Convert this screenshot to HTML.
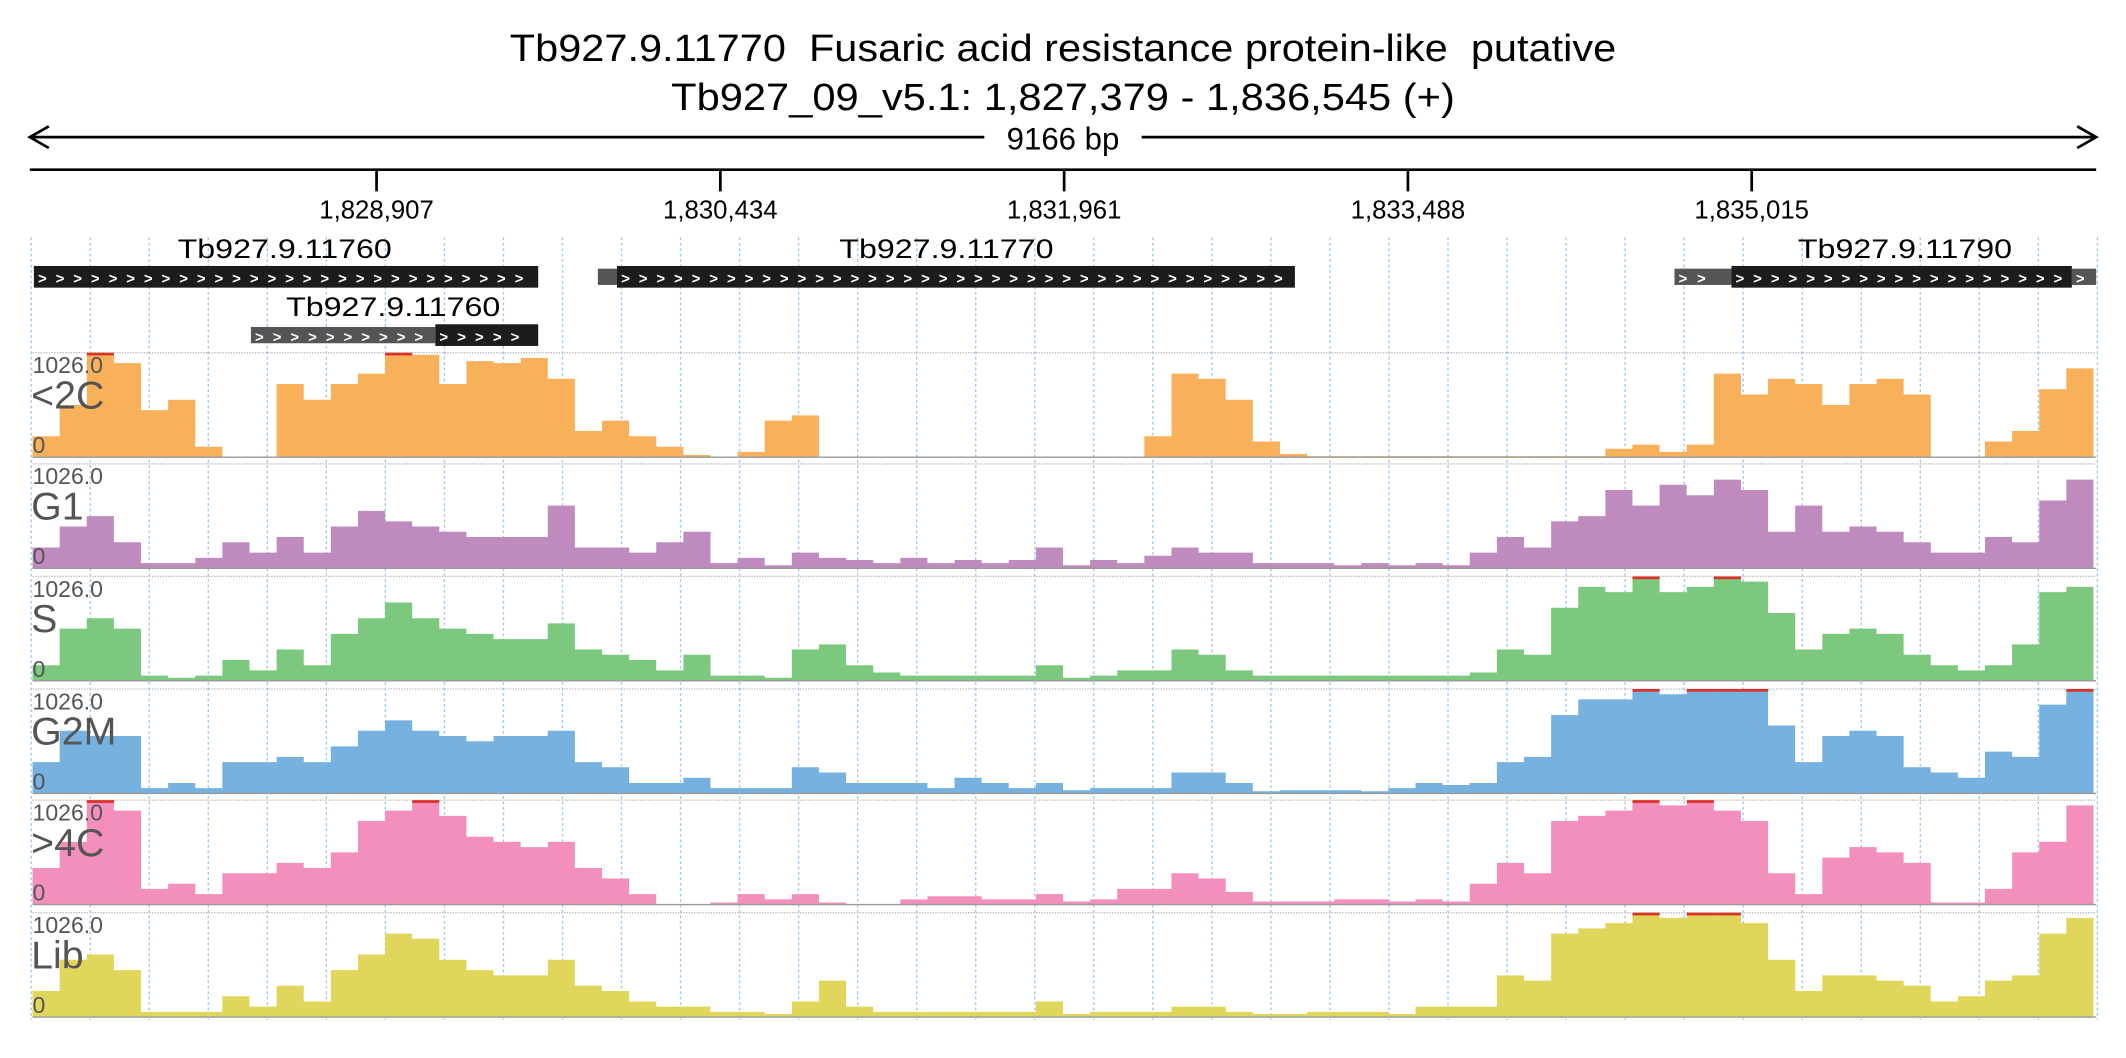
<!DOCTYPE html>
<html><head><meta charset="utf-8"><style>
html,body{margin:0;padding:0;background:#fff;}
svg{display:block;font-family:"Liberation Sans",sans-serif;}
</style></head><body>
<svg id="chart" width="2126" height="1058" viewBox="0 0 1568 780" xmlns="http://www.w3.org/2000/svg">
<text x="784" y="45" text-anchor="middle" font-size="28" fill="#000" style="white-space:pre" textLength="816" lengthAdjust="spacingAndGlyphs">Tb927.9.11770  Fusaric acid resistance protein-like  putative</text>
<text x="784" y="81" text-anchor="middle" font-size="28" fill="#000" textLength="578" lengthAdjust="spacingAndGlyphs">Tb927_09_v5.1: 1,827,379 - 1,836,545 (+)</text>
<g>
<line x1="24" y1="101" x2="1544" y2="101" stroke="#000" stroke-width="2"/>
<path d="M36,93 L22,101 L36,109" fill="none" stroke="#000" stroke-width="2"/>
<path d="M1532,93 L1546,101 L1532,109" fill="none" stroke="#000" stroke-width="2"/>
<rect x="726" y="89" width="116" height="24" fill="#fff"/>
<text x="784" y="110" text-anchor="middle" font-size="23">9166 bp</text>
</g>
<line x1="22" y1="125" x2="1546" y2="125" stroke="#000" stroke-width="2"/>
<g id="ticks"></g>
<g id="grid"></g>
<g id="genes"></g>
<g id="tracks"></g>
</svg>
<script>
const NS="http://www.w3.org/2000/svg";
const tickLabels=["1,828,907","1,830,434","1,831,961","1,833,488","1,835,015"];
const tickPos=[1828907,1830434,1831961,1833488,1835015];
const regionStart=1827379, regionEnd=1836545;
const trackNames=["<2C","G1","S","G2M",">4C","Lib"];
const trackColors=["#f9b05a","#bf8bbf","#7bc87e","#76b1df","#f28fbc","#e0d65c"];
const yMax=1026;
const v2C=[20,50,100,90,45,55,10,0,0,70,55,70,80,100,98,70,92,90,95,75,25,35,20,10,2,0,5,35,40,0,0,0,0,0,0,0,0,0,0,0,0,20,80,75,55,15,3,1,1,1,1,1,1,1,1,1,1,1,8,12,5,12,80,60,75,70,50,70,75,60,0,0,15,25,65,85];
const vG1=[20,40,50,25,5,5,10,25,15,30,15,40,55,45,40,35,30,30,30,60,20,20,15,25,35,5,10,3,15,10,8,5,10,5,8,5,8,20,3,8,5,12,20,15,15,5,5,5,3,5,3,5,3,15,30,20,45,50,75,60,80,70,85,75,35,60,35,40,35,25,15,15,30,25,65,85];
const vS=[15,50,60,50,5,3,5,20,10,30,15,45,60,75,60,50,45,40,40,55,30,25,20,10,25,5,5,3,30,35,15,8,5,5,5,5,5,15,3,5,10,10,30,25,10,5,5,5,5,5,5,5,5,8,30,25,70,90,85,100,85,90,100,95,65,30,45,50,45,25,15,10,15,35,85,90];
const vG2M=[30,60,55,55,5,10,5,30,30,35,30,45,60,70,60,55,50,55,55,60,30,25,10,10,15,5,5,5,25,20,10,10,10,5,15,10,5,10,3,5,5,5,20,20,10,2,3,3,3,2,5,10,8,10,30,35,75,90,90,100,95,100,100,100,65,30,55,60,55,25,20,15,40,35,85,100];
const v4C=[35,60,100,90,15,20,10,30,30,40,35,50,80,90,100,85,65,60,55,60,35,25,10,0,0,2,10,5,10,2,0,0,5,8,8,5,5,10,3,5,15,15,30,25,12,3,3,3,5,5,3,5,3,20,40,30,80,85,90,100,95,100,90,80,30,10,45,55,50,40,2,2,15,50,60,95];
const vLib=[25,55,60,45,5,5,5,20,10,30,15,45,60,80,75,55,45,40,40,55,30,25,15,10,10,5,5,3,15,35,10,5,5,5,5,5,5,15,3,5,5,5,10,10,5,3,3,5,5,5,3,10,10,10,40,35,80,85,90,100,95,100,100,90,55,25,40,40,35,30,15,20,35,40,80,95];
const seriesPct=[v2C,vG1,vS,vG2M,v4C,vLib];
const genes=[["Tb927.9.11760",1827385,1829625,0],["Tb927.9.11770",1829975,1832986,0],["Tb927.9.11790",1834925,1836437,0],["Tb927.9.11760",1829168,1829625,1]];
const utrs=[[1829890,1829975,0],[1834672,1834925,0],[1836437,1836545,0],[1828349,1829168,1]];

const X0=24,X1=1546;
function xs(bp){return X0+(bp-regionStart)/(regionEnd-regionStart)*(X1-X0);}
function mk(tag,attrs,parent){const e=document.createElementNS(NS,tag);for(const k in attrs)e.setAttribute(k,attrs[k]);parent.appendChild(e);return e;}

const tg=document.getElementById('ticks');
tickPos.forEach((p,i)=>{
  const x=xs(p);
  const l=mk('line',{x1:x,y1:125,x2:x,y2:141,stroke:'#000','stroke-width':2},tg);
  
  
  const t=mk('text',{x:x,y:161,'text-anchor':'middle','font-size':19},tg);
  
  
  t.textContent=tickLabels[i];
});
const gg=document.getElementById('grid');
for(let k=0;k<=35;k++){
  const x=23+k*43.54;
  const l=mk('line',{x1:x,y1:175,x2:x,y2:752,stroke:'#9cc8ee','stroke-width':1,'stroke-dasharray':'2,2'},gg);
  
  
}
const ge=document.getElementById('genes');
function chevrons(x1,x2,y,g){
  let s='';const n=Math.floor((x2-x1-4)/13);for(let i=0;i<n;i++)s+='>';
  if(n<1)return;
  const t=mk('text',{x:x1+3,y:y+12,'font-size':11,fill:'#fff','font-weight':'bold',textLength:Math.max(n*13-6,4),lengthAdjust:'spacing'},g);
  t.textContent=s;
}
utrs.forEach(u=>{
  const y=u[2]?239:196;
  const g=mk('g',{},ge);
  
  
  mk('rect',{x:xs(u[0]),y:y+2,width:xs(u[1])-xs(u[0]),height:12,fill:'#555'},g);
  chevrons(xs(u[0]),xs(u[1]),y+1,g);
});
genes.forEach(gd=>{
  const y=gd[3]?239:196;
  const g=mk('g',{},ge);
  
  
  const a=xs(gd[1]),b=xs(gd[2]);
  mk('rect',{x:a,y:y,width:b-a,height:16,fill:'#1c1c1c'},g);
  chevrons(a,b,y+1,g);
  const t=mk('text',{x:gd[3]?290:(gd[0]==="Tb927.9.11760"?210:(gd[0]==="Tb927.9.11790"?1405:698)),y:y-6,'text-anchor':'middle','font-size':20,textLength:158,lengthAdjust:'spacingAndGlyphs'},g);
  
  
  t.textContent=gd[0];
});
const tr=document.getElementById('tracks');
const tops=[260,342,425,508,590,673];const H=77;
const binW=20;
seriesPct.forEach((vals,ti)=>{
  const g=mk('g',{},tr);
  
  
  const top=tops[ti],bot=top+H;
  const ys=v=>bot-(v*yMax/100)/yMax*H;
  mk('line',{x1:24,y1:top,x2:1546,y2:top,stroke:'#bbb','stroke-width':1,'stroke-dasharray':'1,1'},g);
  let d='M'+X0+','+bot;
  vals.forEach((v,i)=>{const x=X0+i*binW;d+=' L'+x+','+ys(v)+' L'+(x+binW)+','+ys(v);});
  d+=' L'+(X0+vals.length*binW)+','+bot+' Z';
  const p=mk('path',{d:d,fill:trackColors[ti]},g);
  
  
  vals.forEach((v,i)=>{if(v>=100){const r=mk('rect',{x:X0+i*binW,y:top,width:binW,height:2,fill:'#d9332a'},g);
    
    }});
  mk('line',{x1:24,y1:bot,x2:1546,y2:bot,stroke:'#999','stroke-width':1},g);
  const t1=mk('text',{x:24,y:top+15,'font-size':17,fill:'#555'},g);
  
  
  t1.textContent='1026.0';
  const t2=mk('text',{x:23,y:top+41,'font-size':29,fill:'#555'},g);
  
  
  t2.textContent=trackNames[ti];
  const t3=mk('text',{x:24,y:bot-3,'font-size':17,fill:'#555'},g);
  
  
  t3.textContent='0';
});
</script>
</body></html>
